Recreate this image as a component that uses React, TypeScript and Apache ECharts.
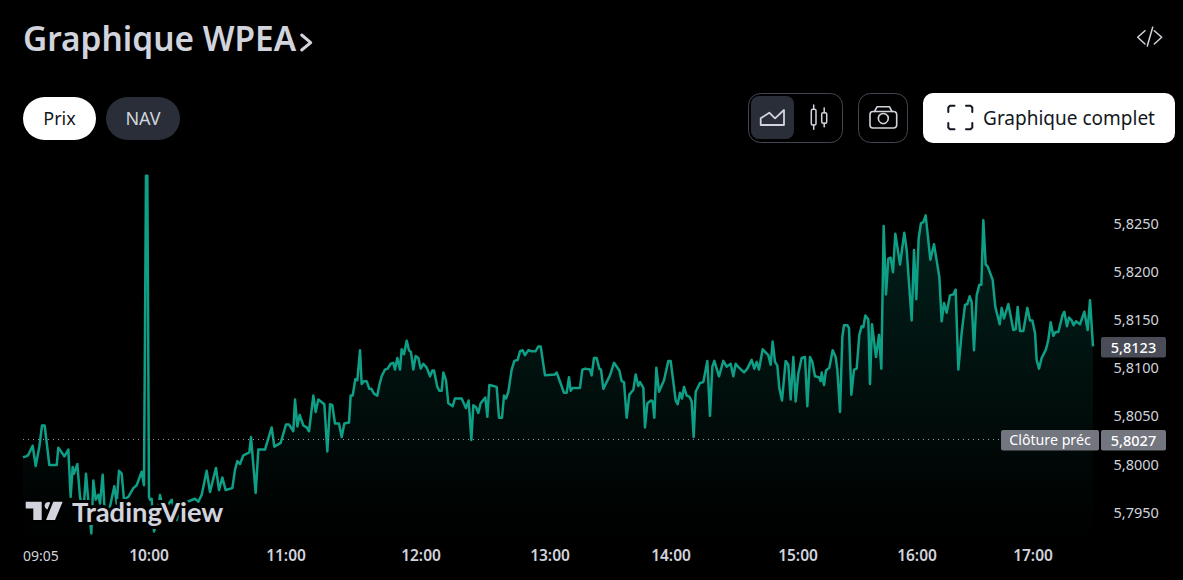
import React, { useEffect, useRef } from "react";
import * as echarts from "echarts";

const titleText = "Graphique WPEA";
const timeLabels = ["09:05", "10:00", "11:00", "12:00", "13:00", "14:00", "15:00", "16:00", "17:00"];
const timeLabelTicks = [0, 378, 789, 1194, 1581, 1944, 2325, 2682, 3030];
const priceTicks = [5.795, 5.8, 5.805, 5.81, 5.815, 5.82, 5.825];
const lastPrice = 5.8123;
const previousClose = 5.8027;

const sessionTicks = [
  0, 9, 15, 29, 38, 49, 57, 65, 79, 101, 106, 124, 136, 143, 149, 153, 163, 171, 181, 189,
  199, 205, 211, 218, 226, 231, 239, 246, 261, 274, 281, 288, 296, 303, 316, 331, 341, 356, 363, 369,
  373, 378, 381, 386, 393, 401, 411, 421, 431, 446, 461, 479, 516, 526, 536, 551, 561, 579, 588, 598,
  608, 628, 636, 643, 651, 661, 679, 684, 698, 706, 726, 746, 754, 773, 789, 798, 811, 816, 823, 830,
  841, 851, 858, 871, 878, 886, 904, 913, 921, 928, 936, 948, 956, 964, 978, 983, 989, 997, 1003, 1011,
  1016, 1023, 1031, 1039, 1045, 1053, 1063, 1069, 1076, 1086, 1094, 1103, 1111, 1116, 1123, 1131, 1136, 1143, 1151, 1158,
  1164, 1171, 1178, 1186, 1193, 1201, 1211, 1221, 1228, 1233, 1243, 1249, 1256, 1261, 1269, 1276, 1289, 1296, 1316, 1321,
  1329, 1337, 1345, 1351, 1359, 1366, 1373, 1387, 1393, 1399, 1411, 1421, 1428, 1437, 1443, 1449, 1456, 1466, 1474, 1484,
  1491, 1499, 1506, 1516, 1526, 1538, 1546, 1553, 1566, 1596, 1601, 1623, 1631, 1638, 1643, 1649, 1671, 1678, 1686, 1701,
  1706, 1713, 1721, 1729, 1734, 1741, 1761, 1773, 1789, 1796, 1803, 1811, 1819, 1831, 1838, 1846, 1851, 1861, 1866, 1873,
  1884, 1889, 1894, 1900, 1908, 1923, 1936, 1943, 1958, 1964, 1971, 1977, 1983, 1991, 1999, 2006, 2012, 2018, 2031, 2041,
  2053, 2061, 2068, 2074, 2088, 2101, 2111, 2123, 2131, 2138, 2148, 2163, 2173, 2186, 2194, 2201, 2208, 2219, 2236, 2243,
  2249, 2256, 2263, 2269, 2277, 2288, 2296, 2303, 2311, 2318, 2326, 2336, 2346, 2353, 2361, 2368, 2376, 2388, 2393, 2396,
  2403, 2409, 2419, 2429, 2438, 2443, 2451, 2458, 2463, 2473, 2478, 2485, 2493, 2501, 2509, 2516, 2521, 2527, 2536, 2541,
  2547, 2559, 2568, 2575, 2582, 2589, 2596, 2603, 2610, 2617, 2631, 2644, 2651, 2666, 2673, 2680, 2687, 2694, 2701, 2708,
  2722, 2733, 2749, 2756, 2763, 2771, 2781, 2791, 2798, 2806, 2816, 2826, 2833, 2840, 2846, 2853, 2861, 2869, 2875, 2881,
  2888, 2894, 2909, 2917, 2930, 2936, 2943, 2956, 2971, 2978, 2984, 2991, 3001, 3013, 3021, 3028, 3036, 3041, 3048, 3056,
  3069, 3076, 3083, 3091, 3098, 3106, 3119, 3124, 3132, 3138, 3146, 3152, 3159, 3171, 3184, 3194, 3201, 3210,
];

const prices = [
  5.8008, 5.8009, 5.801, 5.802, 5.7999, 5.8019, 5.8041, 5.8041, 5.8, 5.8, 5.8018, 5.8009, 5.8016, 5.7967, 5.7998, 5.7991, 5.8001, 5.7967, 5.795, 5.7991,
  5.795, 5.7929, 5.7984, 5.7964, 5.7969, 5.796, 5.799, 5.7946, 5.7957, 5.7978, 5.796, 5.7994, 5.7991, 5.7964, 5.7967, 5.7976, 5.7979, 5.7993, 5.7979, 5.83,
  5.83, 5.7967, 5.7964, 5.7965, 5.7931, 5.794, 5.7969, 5.7953, 5.7957, 5.7964, 5.7943, 5.796, 5.7965, 5.7962, 5.7969, 5.7994, 5.7972, 5.7997, 5.7974, 5.7987,
  5.7974, 5.7976, 5.7995, 5.8004, 5.8001, 5.801, 5.8013, 5.8029, 5.7971, 5.8016, 5.8016, 5.8039, 5.8019, 5.8023, 5.8042, 5.8042, 5.8035, 5.8068, 5.804, 5.8052,
  5.8041, 5.8039, 5.8035, 5.8072, 5.8055, 5.8068, 5.8063, 5.8014, 5.8063, 5.8062, 5.8043, 5.8043, 5.8029, 5.8043, 5.8044, 5.8072, 5.8072, 5.8089, 5.8088, 5.8119,
  5.8084, 5.8087, 5.8087, 5.8079, 5.8079, 5.8074, 5.8072, 5.8083, 5.8092, 5.8099, 5.81, 5.8105, 5.8106, 5.8099, 5.8111, 5.8099, 5.812, 5.8115, 5.8129, 5.8119,
  5.8117, 5.8099, 5.8113, 5.8111, 5.81, 5.8105, 5.8101, 5.8092, 5.8098, 5.8098, 5.8081, 5.8077, 5.8077, 5.8096, 5.8088, 5.8064, 5.8061, 5.8069, 5.8069, 5.8065,
  5.8059, 5.8067, 5.8026, 5.8062, 5.806, 5.8054, 5.8064, 5.807, 5.805, 5.8083, 5.8082, 5.8081, 5.8049, 5.8049, 5.8072, 5.8069, 5.8076, 5.8099, 5.8108, 5.8109,
  5.8118, 5.8119, 5.8114, 5.8119, 5.8118, 5.8118, 5.8123, 5.8123, 5.8093, 5.8094, 5.8096, 5.8075, 5.8075, 5.8091, 5.8077, 5.808, 5.808, 5.8099, 5.81, 5.8099,
  5.8093, 5.8111, 5.8111, 5.81, 5.8099, 5.8079, 5.8093, 5.8106, 5.8098, 5.8087, 5.8086, 5.8049, 5.8073, 5.8078, 5.8094, 5.8082, 5.8086, 5.808, 5.8039, 5.8064,
  5.8067, 5.8066, 5.8049, 5.8101, 5.8076, 5.8088, 5.8108, 5.8108, 5.8067, 5.8063, 5.8075, 5.8069, 5.8081, 5.8072, 5.8071, 5.8066, 5.8029, 5.8076, 5.8085, 5.8086,
  5.8108, 5.8051, 5.8102, 5.8108, 5.8092, 5.8108, 5.8102, 5.8105, 5.8092, 5.8105, 5.8101, 5.8096, 5.81, 5.8109, 5.81, 5.8107, 5.8099, 5.812, 5.8114, 5.8104,
  5.8128, 5.8107, 5.8103, 5.808, 5.8067, 5.8108, 5.8104, 5.8068, 5.8112, 5.8066, 5.8095, 5.8111, 5.8112, 5.8061, 5.8112, 5.8107, 5.8092, 5.8091, 5.8087, 5.8096,
  5.8083, 5.8098, 5.8101, 5.8119, 5.8112, 5.8099, 5.8055, 5.8133, 5.8145, 5.8145, 5.8142, 5.8073, 5.8099, 5.81, 5.8135, 5.8144, 5.8143, 5.8155, 5.8151, 5.8084,
  5.8146, 5.8112, 5.8135, 5.81, 5.8248, 5.8177, 5.8214, 5.8215, 5.82, 5.824, 5.8208, 5.8241, 5.8223, 5.815, 5.8223, 5.8172, 5.8235, 5.8251, 5.8252, 5.8259,
  5.8213, 5.8229, 5.8195, 5.8149, 5.8168, 5.8158, 5.8176, 5.8177, 5.8182, 5.8099, 5.8137, 5.8166, 5.8167, 5.8175, 5.8169, 5.8119, 5.8176, 5.8187, 5.8187, 5.8254,
  5.8208, 5.8206, 5.8192, 5.8164, 5.8146, 5.8163, 5.8152, 5.8167, 5.814, 5.8141, 5.8164, 5.8139, 5.8139, 5.8163, 5.815, 5.815, 5.8137, 5.8109, 5.81, 5.8111,
  5.812, 5.813, 5.8148, 5.8134, 5.8138, 5.8138, 5.8156, 5.8159, 5.8144, 5.8153, 5.815, 5.8145, 5.8149, 5.8146, 5.8159, 5.814, 5.8171, 5.8123,
];

const FONT = "'Noto Sans', 'Open Sans', sans-serif";
const UI = "#d1d4dc";
const DARK = "#131722";

const fmt = (v: number) => v.toFixed(4).replace(".", ",");

function label(x: number, y: number, text: string, fill: string, fontSize: number, extra: any = {}) {
  return {
    type: "text",
    x,
    y,
    style: { text, fill, fontSize, fontFamily: FONT, align: "center", verticalAlign: "middle", ...extra },
  };
}
function box(x: number, y: number, width: number, height: number, r: number, style: any) {
  return { type: "rect", shape: { x, y, width, height, r }, style };
}
function stroke(points: number[][], color = UI, lineWidth = 2) {
  return {
    type: "polyline",
    shape: { points },
    style: { stroke: color, lineWidth, fill: "none", lineJoin: "round", lineCap: "round" },
  };
}

function buildGraphics() {
  const border = { fill: "transparent", stroke: "#434651", lineWidth: 1 };
  const halo = { stroke: "#000000", lineWidth: 5, strokeFirst: true };
  const items: any[] = [
    { ...label(23, 37.5, titleText, UI, 33.4, { align: "left", fontWeight: 600 }) },
    stroke([[301.7, 35], [310.7, 42.7], [301.7, 50]], UI, 3),
    stroke([[1145, 30.7], [1137.7, 37.3], [1145, 44]], UI, 1.5),
    stroke([[1152.7, 27.3], [1147.3, 46]], UI, 1.5),
    stroke([[1154.3, 30.7], [1161.7, 37.3], [1154.3, 44]], UI, 1.5),
    box(23, 97, 73, 43, 21.5, { fill: "#ffffff" }),
    label(59.5, 117.5, "Prix", DARK, 18),
    box(106, 97, 74, 43, 21.5, { fill: "#2a2e39" }),
    label(143, 117.5, "NAV", UI, 18),
    box(748.5, 93.5, 94, 49, 12, border),
    box(751, 96, 43, 43, 8, { fill: "#2a2e39" }),
    {
      type: "polygon",
      shape: { points: [[760.7, 125], [760.7, 118.3], [769.3, 112.7], [775, 118.3], [784, 110], [784, 125]] },
      style: { fill: "transparent", stroke: UI, lineWidth: 1.8, lineJoin: "round" },
    },
    stroke([[813.7, 105], [813.7, 109.3]], UI, 1.5),
    stroke([[813.7, 125], [813.7, 129.3]], UI, 1.5),
    box(811.3, 109.3, 4.7, 15.7, 1.5, { fill: "transparent", stroke: UI, lineWidth: 1.5 }),
    stroke([[824.2, 108], [824.2, 112.7]], UI, 1.5),
    stroke([[824.2, 123.3], [824.2, 126.7]], UI, 1.5),
    box(821.7, 112.7, 5, 10.6, 1.5, { fill: "transparent", stroke: UI, lineWidth: 1.5 }),
    box(858.5, 93.5, 49, 49, 12, border),
    box(870, 111.5, 26.7, 16.5, 3, { fill: "transparent", stroke: UI, lineWidth: 1.6 }),
    stroke([[874.5, 111.5], [877, 106.8], [889.5, 106.8], [892, 111.5]], UI, 1.6),
    { type: "circle", shape: { cx: 883.3, cy: 118.5, r: 5 }, style: { fill: "transparent", stroke: UI, lineWidth: 1.6 } },
    box(923, 93, 252, 50, 10, { fill: "#ffffff" }),
    label(1069, 117.5, "Graphique complet", DARK, 19),
    stroke([[948.3, 112], [948.3, 107.5], [950, 105.8], [954.5, 105.8]], DARK),
    stroke([[966, 105.8], [970.5, 105.8], [972.3, 107.5], [972.3, 112]], DARK),
    stroke([[948.3, 123], [948.3, 127.5], [950, 129.2], [954.5, 129.2]], DARK),
    stroke([[966, 129.2], [970.5, 129.2], [972.3, 127.5], [972.3, 123]], DARK),
    box(1101, 337, 65, 20.5, 2, { fill: "#4a4c58" }),
    label(1133.5, 346.5, fmt(lastPrice), "#ffffff", 14.5, { fontWeight: 500 }),
    box(1001, 430, 98, 20.5, 2, { fill: "#73757f" }),
    label(1050, 439.5, "Clôture préc", "#ffffff", 14.2),
    box(1101, 430, 65, 20.5, 2, { fill: "#73757f" }),
    label(1133.5, 439.5, fmt(previousClose), "#ffffff", 14.5, { fontWeight: 500 }),
    {
      type: "polygon",
      shape: { points: [[25.7, 501.7], [41.7, 501.7], [41.7, 520], [33.3, 520], [33.3, 508.5], [25.7, 508.5]] },
      style: { fill: UI, ...halo },
    },
    { type: "circle", shape: { cx: 48.3, cy: 505.7, r: 3.7 }, style: { fill: UI, ...halo } },
    { type: "polygon", shape: { points: [[53.3, 501.7], [62.7, 501.7], [55, 520], [46, 520]] }, style: { fill: UI, ...halo } },
    label(72, 511, "TradingView", UI, 27.4, {
      align: "left",
      fontFamily: "'Lato', sans-serif",
      fontWeight: 700,
      stroke: "#000000",
      lineWidth: 6,
    }),
  ];
  return items.map((el) => ({ ...el, z: 100 }));
}

export default function App() {
  const ref = useRef<HTMLDivElement>(null);
  useEffect(() => {
    document.body.style.margin = "0";
    document.body.style.background = "#000";
    const chart = echarts.init(ref.current!, undefined, { renderer: "svg" });
    chart.setOption({
      animation: false,
      backgroundColor: "#000000",
      grid: { left: 23, top: 127.6, width: 1070, height: 412.6, containLabel: false },
      xAxis: {
        type: "value",
        min: 0,
        max: 3210,
        splitLine: { show: false },
        axisLine: { show: false },
        axisTick: { show: false },
        axisLabel: {
          customValues: timeLabelTicks,
          formatter: (v: number) => {
            const text = timeLabels[timeLabelTicks.indexOf(v)] ?? "";
            return v === 0 ? `{start|${text}}` : `{hour|${text}}`;
          },
          rich: {
            start: { color: UI, fontFamily: FONT, fontSize: 14, lineHeight: 18 },
            hour: { color: UI, fontFamily: FONT, fontSize: 15.5, fontWeight: 600, lineHeight: 18 },
          },
          margin: 6,
          alignMinLabel: "left",
        },
      },
      yAxis: {
        type: "value",
        position: "right",
        min: 5.7922,
        max: 5.835,
        scale: true,
        splitLine: { show: false },
        axisLine: { show: false },
        axisTick: { show: false },
        axisLabel: {
          customValues: priceTicks,
          formatter: (v: number) => fmt(v),
          color: UI,
          fontFamily: FONT,
          fontSize: 14.5,
          margin: 20.5,
          verticalAlign: "bottom",
          lineHeight: 3,
        },
      },
      series: [
        {
          type: "line",
          data: sessionTicks.map((t, i) => [t, prices[i]]),
          showSymbol: false,
          symbol: "none",
          lineStyle: { color: "#0f9f87", width: 2.5, join: "round" },
          areaStyle: {
            origin: "start",
            color: new echarts.graphic.LinearGradient(0, 0, 0, 1, [
              { offset: 0, color: "rgba(8,153,129,0.34)" },
              { offset: 1, color: "rgba(8,153,129,0)" },
            ]),
          },
          markLine: {
            silent: true,
            symbol: "none",
            label: { show: false },
            lineStyle: { color: "#9598a1", type: [1, 4], width: 1 },
            data: [[{ coord: [0, previousClose] }, { coord: [2931, previousClose] }]],
          },
        },
      ],
      graphic: buildGraphics(),
    });
    return () => chart.dispose();
  }, []);
  return <div ref={ref} style={{ position: "absolute", left: 0, top: 0, width: 1183, height: 580 }} />;
}
